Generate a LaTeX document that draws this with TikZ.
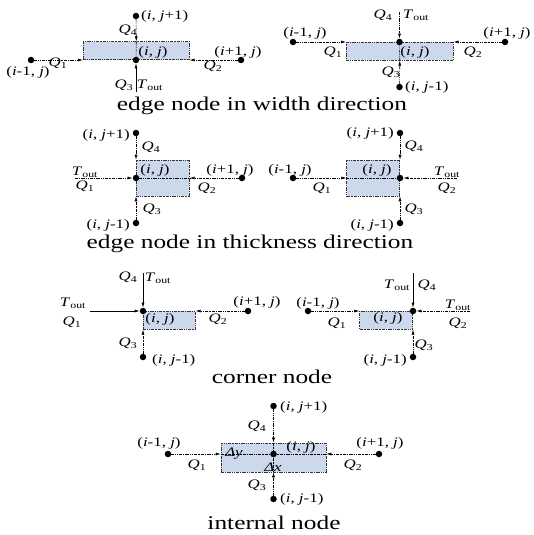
\documentclass[tikz,border=0pt]{standalone}
\usepackage{fontspec}
\setmainfont{Liberation Serif}[FakeStretch=1.3]
\usepackage{tikz}
\usetikzlibrary{arrows.meta, positioning, calc}
\definecolor{cellblue}{HTML}{CCD9EC}
\definecolor{inkgrey}{HTML}{333333}
\newcommand{\vi}{\textit{i}}
\newcommand{\vj}{\textit{j}}
\newcommand{\Qn}[1]{\textit{Q}\textsubscript{#1}}
\newcommand{\Tout}{\textit{T}\textsubscript{out}}

\begin{document}
\begin{tikzpicture}[x=1pt, y=-1pt]
  \tikzstyle{dd}=[line width=0.6pt,
    dash pattern=on 3pt off 1pt on 0.7pt off 1pt on 0.7pt off 1pt]
  \tikzstyle{flow}=[dd, -{Latex[length=5pt,width=3pt]}]
  \tikzstyle{heat}=[line width=0.6pt, -{Latex[length=5pt,width=3pt]}]
  \tikzstyle{dot}=[circle, fill=black, inner sep=0pt, minimum size=6.5pt]
  \tikzstyle{cell}=[dd, draw=inkgrey, fill=cellblue, inner sep=0pt]
  \tikzstyle{lbl}=[font=\fontsize{13}{14}\selectfont, inner sep=1pt]
  \tikzstyle{capt}=[font=\fontsize{19.5}{22}\selectfont, anchor=base]

  \useasboundingbox (0,0) rectangle (533,535);

  % edge node in width direction (left)
  \node[cell, minimum width=106pt, minimum height=18pt, anchor=south west]
    (b1) at (83,60) {};
  \node[dot] (c1) at (136,60) {};
  \node[dot] (w1) at (31,60) {};
  \node[dot] (e1) at (241,60) {};
  \node[dot] (n1) at (136,16) {};
  \coordinate (s1) at (136,92);
  \draw[flow] (w1) -- (b1.south west);
  \draw[flow] (e1) -- (b1.south east);
  \draw[flow] (n1) -- (b1.north);
  \draw[dd] (b1.north) -- (c1);
  \draw[heat] (s1) -- (c1);
  \node[lbl, anchor=west] at (140,16) {(\vi, \vj+1)};
  \node[lbl] at (128,30) {\Qn{4}};
  \node[lbl] at (153,52) {(\vi, \vj)};
  \node[lbl] at (238,52) {(\vi+1, \vj)};
  \node[lbl] at (213,66) {\Qn{2}};
  \node[lbl] at (28,72) {(\vi-1, \vj)};
  \node[lbl] at (58,63) {\Qn{1}};
  \node[lbl] at (124,85) {\Qn{3}};
  \node[lbl] at (150,85) {\Tout};

  % edge node in width direction (right)
  \node[cell, minimum width=107pt, minimum height=18pt, anchor=north west]
    (b2) at (346,42) {};
  \node[dot] (c2) at (399.5,42) {};
  \node[dot] (w2) at (293,42) {};
  \node[dot] (e2) at (505,42) {};
  \node[dot] (s2) at (399.5,87) {};
  \coordinate (n2) at (399.5,12);
  \draw[flow] (w2) -- (b2.north west);
  \draw[flow] (e2) -- (b2.north east);
  \draw[flow] (s2) -- (b2.south);
  \draw[dd] (b2.south) -- (c2);
  \draw[flow] (n2) -- (c2);
  \node[lbl] at (383,15) {\Qn{4}};
  \node[lbl] at (416,15) {\Tout};
  \node[lbl] at (305,33) {(\vi-1, \vj)};
  \node[lbl] at (507,33) {(\vi+1, \vj)};
  \node[lbl] at (333,52) {\Qn{1}};
  \node[lbl] at (473,52) {\Qn{2}};
  \node[lbl] at (415,52) {(\vi, \vj)};
  \node[lbl] at (391,72) {\Qn{3}};
  \node[lbl, anchor=west] at (404,87) {(\vi, \vj-1)};

  \node[capt] (t1) at (262,110) {edge node in width direction};

  % edge node in thickness direction (left)
  \node[cell, minimum width=53pt, minimum height=36pt, anchor=west]
    (b3) at (136,178) {};
  \node[dot] (c3) at (136,178) {};
  \node[dot] (n3) at (136,133) {};
  \node[dot] (s3) at (136,223) {};
  \node[dot] (e3) at (242,178) {};
  \coordinate (w3) at (75,178);
  \draw[flow] (n3) -- (b3.north west);
  \draw[flow] (s3) -- (b3.south west);
  \draw[flow] (e3) -- (b3.east);
  \draw[dd] (c3) -- (b3.east);
  \draw[flow] (w3) -- (c3);
  \node[lbl, anchor=east] at (131,135) {(\vi, \vj+1)};
  \node[lbl] at (151,147) {\Qn{4}};
  \node[lbl] at (85,172) {\Tout};
  \node[lbl] at (85,186) {\Qn{1}};
  \node[lbl] at (155,170) {(\vi, \vj)};
  \node[lbl] at (230,170) {(\vi+1, \vj)};
  \node[lbl] at (207,188) {\Qn{2}};
  \node[lbl] at (152,209) {\Qn{3}};
  \node[lbl, anchor=east] at (131,225) {(\vi, \vj-1)};

  % edge node in thickness direction (right)
  \node[cell, minimum width=53pt, minimum height=36pt, anchor=east]
    (b4) at (400,178) {};
  \node[dot] (c4) at (400,178) {};
  \node[dot] (n4) at (400,133) {};
  \node[dot] (s4) at (400,223) {};
  \node[dot] (w4) at (293,178) {};
  \coordinate (e4) at (457,178);
  \draw[flow] (n4) -- (b4.north east);
  \draw[flow] (s4) -- (b4.south east);
  \draw[flow] (w4) -- (b4.west);
  \draw[dd] (b4.west) -- (c4);
  \draw[flow] (e4) -- (c4);
  \node[lbl, anchor=east] at (395,133) {(\vi, \vj+1)};
  \node[lbl] at (414,146) {\Qn{4}};
  \node[lbl] at (290,170) {(\vi-1, \vj)};
  \node[lbl] at (377,170) {(\vi, \vj)};
  \node[lbl] at (447,172) {\Tout};
  \node[lbl] at (447,188) {\Qn{2}};
  \node[lbl] at (322,188) {\Qn{1}};
  \node[lbl] at (414,209) {\Qn{3}};
  \node[lbl, anchor=east] at (395,225) {(\vi, \vj-1)};

  \node[capt] (t2) at (250,248) {edge node in thickness direction};

  % corner node (left)
  \node[cell, minimum width=52pt, minimum height=18pt, anchor=north west]
    (b5) at (143,311) {};
  \node[dot] (c5) at (143,311) {};
  \node[dot] (e5) at (248,311) {};
  \node[dot] (s5) at (143,357) {};
  \coordinate (n5) at (143,273);
  \coordinate (w5) at (90,311);
  \draw[heat] (n5) -- (c5);
  \draw[heat] (w5) -- (c5);
  \draw[flow] (e5) -- (b5.north east);
  \draw[flow] (s5) -- (b5.south west);
  \node[lbl] at (128,277) {\Qn{4}};
  \node[lbl] at (158,278) {\Tout};
  \node[lbl] at (73,303) {\Tout};
  \node[lbl] at (72,322) {\Qn{1}};
  \node[lbl] at (257,302) {(\vi+1, \vj)};
  \node[lbl] at (160,319) {(\vi, \vj)};
  \node[lbl] at (218,319) {\Qn{2}};
  \node[lbl] at (128,343) {\Qn{3}};
  \node[lbl, anchor=west] at (151,360) {(\vi, \vj-1)};

  % corner node (right)
  \node[cell, minimum width=53pt, minimum height=18pt, anchor=north east]
    (b6) at (413,311) {};
  \node[dot] (c6) at (413,311) {};
  \node[dot] (w6) at (308,311) {};
  \node[dot] (s6) at (413,357) {};
  \coordinate (n6) at (413,273);
  \coordinate (e6) at (470,311);
  \draw[heat] (n6) -- (c6);
  \draw[flow] (e6) -- (c6);
  \draw[flow] (w6) -- (b6.north west);
  \draw[flow] (s6) -- (b6.south east);
  \node[lbl] at (397,285) {\Tout};
  \node[lbl] at (427,285) {\Qn{4}};
  \node[lbl] at (318,303) {(\vi-1, \vj)};
  \node[lbl] at (388,318) {(\vi, \vj)};
  \node[lbl] at (458,305) {\Tout};
  \node[lbl] at (458,323) {\Qn{2}};
  \node[lbl] at (337,323) {\Qn{1}};
  \node[lbl] at (424,345) {\Qn{3}};
  \node[lbl, anchor=east] at (408,360) {(\vi, \vj-1)};

  \node[capt] (t3) at (272,383) {corner node};

  % internal node
  \node[cell, minimum width=105pt, minimum height=29pt] (b7) at (273.5,457.5) {};
  \node[dot] (c7) at (273.5,454) {};
  \node[dot] (n7) at (273.5,406) {};
  \node[dot] (s7) at (273.5,499) {};
  \node[dot] (w7) at (168,454) {};
  \node[dot] (e7) at (379,454) {};
  \draw[flow] (w7) -- (b7.west |- c7);
  \draw[flow] (e7) -- (b7.east |- c7);
  \draw[flow] (n7) -- (b7.north);
  \draw[flow] (s7) -- (b7.south);
  \draw[dd] (b7.west |- c7) -- (b7.east |- c7);
  \draw[dd] (b7.north) -- (b7.south);
  \node[lbl, anchor=west] at (279,407) {(\vi, \vj+1)};
  \node[lbl] at (257,426) {\Qn{4}};
  \node[lbl] at (159,443) {(\vi-1, \vj)};
  \node[lbl] at (301,447) {(\vi, \vj)};
  \node[lbl] at (380,443) {(\vi+1, \vj)};
  \node[lbl] at (234,454) {\textit{Δy}};
  \node[lbl] at (273,467) {\textit{Δx}};
  \node[lbl] at (197,465) {\Qn{1}};
  \node[lbl] at (353,465) {\Qn{2}};
  \node[lbl] at (257,485) {\Qn{3}};
  \node[lbl, anchor=west] at (279,499) {(\vi, \vj-1)};

  \node[capt] (t4) at (274,529) {internal node};
\end{tikzpicture}
\end{document}
